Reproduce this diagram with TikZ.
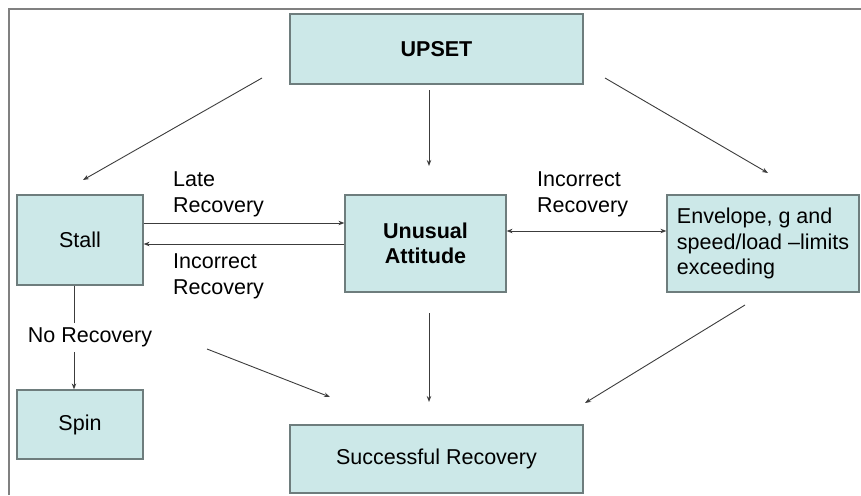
\documentclass[tikz,border=0pt]{standalone}
\usepackage{fontspec}
\setmainfont{Liberation Sans}
\usetikzlibrary{arrows.meta}
\definecolor{boxfill}{RGB}{204,232,232}
\definecolor{boxline}{RGB}{110,125,125}
\definecolor{arrline}{RGB}{60,60,60}
\tikzset{
  box/.style={draw=boxline,line width=1.2pt,fill=boxfill,inner sep=0pt,align=center},
  arr/.style={->,draw=arrline,line width=0.9pt},
  lbl/.style={anchor=west,align=left,inner sep=0pt}
}
\begin{document}
\begin{tikzpicture}[x=1pt,y=-1pt,>={Stealth[length=6pt,width=4.5pt]},
  font=\fontsize{21.5}{25.5}\selectfont]
  \useasboundingbox (0,0) rectangle (861,495);
  %frame
  \draw[gray,line width=2pt] (9,495) -- (9,9) -- (861,9);
  %boxes
  \node[box,minimum width=293pt,minimum height=70pt] (upset) at (436.5,49) {\textbf{UPSET}};
  \node[box,minimum width=126pt,minimum height=90pt] (stall) at (80,240) {Stall};
  \node[box,minimum width=161pt,minimum height=97pt] (unusual) at (425.5,243.5) {\textbf{Unusual}\\\textbf{Attitude}};
  \node[box,minimum width=192pt,minimum height=97pt,align=left] (envelope) at (763,243.5) {Envelope, g and\\speed/load –limits\\exceeding};
  \node[box,minimum width=126pt,minimum height=69pt] (spin) at (80,424.5) {Spin};
  \node[box,minimum width=293pt,minimum height=68pt] (success) at (436.5,459) {Successful Recovery};
  %free ends
  \coordinate (upL) at (262,78);   \coordinate (stallT) at (83,180);
  \coordinate (upM) at (429,90);   \coordinate (unuT) at (429,166);
  \coordinate (upR) at (605,78);   \coordinate (envT) at (768,173);
  \coordinate (midL) at (207,349); \coordinate (succL) at (330,397);
  \coordinate (unuB) at (429,313); \coordinate (succM) at (429,402);
  \coordinate (envB) at (745,305); \coordinate (succR) at (585,403);
  %arrows from upset
  \draw[arr] (upL) -- (stallT);
  \draw[arr] (upM) -- (unuT);
  \draw[arr] (upR) -- (envT);
  %middle row
  \draw[arr] ([yshift=17pt]stall.east) -- ([yshift=20.5pt]unusual.west);
  \draw[arr] ([yshift=-0.5pt]unusual.west) -- ([yshift=-4pt]stall.east);
  \draw[arr,<->] ([yshift=12.5pt]unusual.east) -- ([yshift=12.5pt]envelope.west);
  \draw[arr] ([xshift=-6pt]stall.south) -- node[xshift=16pt,fill=white,inner xsep=0pt,inner ysep=5pt] (norec) {No Recovery} ([xshift=-6pt]spin.north);
  %arrows to success
  \draw[arr] (midL) -- (succL);
  \draw[arr] (unuB) -- (succM);
  \draw[arr] (envB) -- (succR);
  %labels
  \node[lbl] (laterec) at (173,194.5) {Late\\Recovery};
  \node[lbl] (incleft) at (173,276.5) {Incorrect\\Recovery};
  \node[lbl] (incright) at (537,194.5) {Incorrect\\Recovery};
\end{tikzpicture}
\end{document}
